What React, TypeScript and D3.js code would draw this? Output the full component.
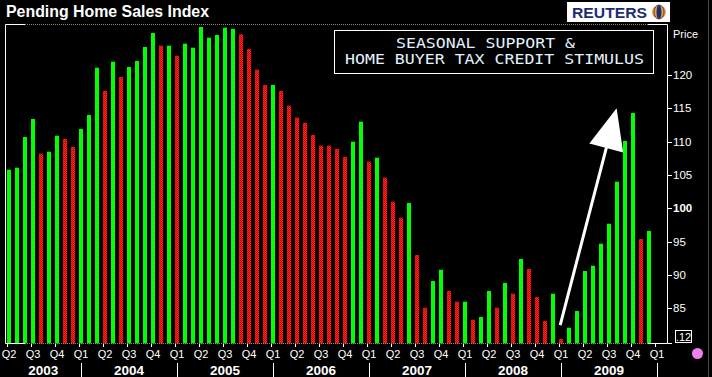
import React from "react";
import * as d3 from "d3";

// Monthly Pending Home Sales Index, Apr 2003 .. Dec 2009
const values: number[] = [
  105.8, 106.1, 110.7, 113.4, 108.2, 108.5, 110.9, 110.4, 109.2, 111.9,
  114.0, 121.1, 117.6, 122.0, 119.7, 121.2, 122.1, 124.2, 126.3, 124.4,
  124.4, 122.9, 124.7, 124.1, 127.2, 125.6, 126.0, 127.1, 126.9, 126.1,
  123.9, 120.8, 118.5, 118.5, 117.6, 115.4, 113.6, 112.8, 111.0, 109.4,
  109.4, 108.9, 107.7, 110.0, 113.0, 107.0, 107.6, 104.6, 101.0, 98.6,
  100.8, 93.0, 85.1, 89.1, 90.8, 87.6, 86.0, 86.0, 83.3, 83.7,
  87.6, 85.1, 88.8, 87.2, 92.4, 90.9, 86.7, 83.1, 87.2, 80.4,
  82.1, 84.6, 90.6, 91.4, 94.7, 97.7, 104.0, 110.1, 114.3, 95.4,
  96.6,
];
// G = green (up) bar, R = red (down) bar, as coloured in the source
const directions: string[] = (
  "GGGGRGGRRGGGRGRGGGGRGRGGGGGGGRRRRGRRRRRRRRRGGRGRRRGRRGGRRGRGGRGRGRRRGRGGGGGGGGGRG"
).split("");
const quarterLabels: string[] = [
  "Q2", "Q3", "Q4",
  "Q1", "Q2", "Q3", "Q4",
  "Q1", "Q2", "Q3", "Q4",
  "Q1", "Q2", "Q3", "Q4",
  "Q1", "Q2", "Q3", "Q4",
  "Q1", "Q2", "Q3", "Q4",
  "Q1", "Q2", "Q3", "Q4",
  "Q1",
];
const years: string[] = ["2003", "2004", "2005", "2006", "2007", "2008", "2009"];
const yearStartIndex: number[] = [0, 9, 21, 33, 45, 57, 69, 81];
const yTicks: number[] = [85, 90, 95, 100, 105, 110, 115, 120];
const title = "Pending Home Sales Index";
const noteLines: string[] = ["SEASONAL SUPPORT &", "HOME BUYER TAX CREDIT STIMULUS"];

const W = 712;
const H = 377;
const plotLeft = 5.5;
const plotRight = 667.5;
const plotTop = 24.5;
const plotBottom = 343.5;
const sans = "'Liberation Sans', Arial, sans-serif";
const mono = "'DejaVu Sans Mono', 'Liberation Mono', monospace";

export default function App() {
  const x = d3.scaleLinear().domain([0, 81]).range([9, 657]);
  const y = d3.scaleLinear().domain([80, 120]).range([341.7, 75]);
  const barW = 4;

  // arrow in data coordinates
  const a0 = [x(68.9), y(82.5)];
  const a1 = [x(75.95), y(115)];
  const dx = a1[0] - a0[0];
  const dy = a1[1] - a0[1];
  const len = Math.hypot(dx, dy);
  const ux = dx / len;
  const uy = dy / len;
  const headLen = 41;
  const headHalf = 17.5;
  const bx = a1[0] - ux * headLen;
  const by = a1[1] - uy * headLen;
  const px = -uy;
  const py = ux;
  const head = [
    [a1[0], a1[1]],
    [bx + px * headHalf, by + py * headHalf],
    [bx - px * headHalf, by - py * headHalf],
  ];

  return (
    <svg
      width={W}
      height={H}
      style={{ position: "fixed", left: 0, top: 0, display: "block" }}
    >
      <defs>
        <pattern id="redDither" width="2" height="2" patternUnits="userSpaceOnUse">
          <rect width="2" height="2" fill="#ff2424" />
          <rect width="1" height="1" fill="#d40000" />
          <rect x="1" y="1" width="1" height="1" fill="#d40000" />
        </pattern>
      </defs>
      <rect width={W} height={H} fill="#000" />

      {/* title */}
      <text x={6} y={17} fill="#fff" fontFamily={sans} fontSize={16} fontWeight="bold"
        textLength={203} lengthAdjust="spacingAndGlyphs">
        {title}
      </text>

      {/* Reuters logo */}
      <g>
        <rect x={567} y={2} width={103} height={20} fill="#fff" />
        <text x={572} y={17.5} fill="#1c2d6e" fontFamily={sans} fontSize={15} fontWeight="bold"
          textLength={75} lengthAdjust="spacingAndGlyphs">
          REUTERS
        </text>
        <circle cx={659} cy={12} r={7} fill="#f0a040" />
        <ellipse cx={659} cy={12} rx={2.5} ry={7} fill="#1c2d6e" />
        <ellipse cx={659} cy={12} rx={5} ry={7} fill="none" stroke="#1c2d6e" strokeWidth={0.8} />
      </g>

      {/* bars */}
      {values.map((v, i) => (
        <rect
          key={i}
          x={x(i) - barW / 2}
          y={y(v)}
          width={barW}
          height={plotBottom - y(v)}
          fill={directions[i] === "G" ? "#00ff00" : "url(#redDither)"}
        />
      ))}

      {/* plot frame */}
      <line x1={plotLeft} x2={plotLeft} y1={plotTop} y2={plotBottom} stroke="#fff" />
      <line x1={plotRight} x2={plotRight} y1={plotTop} y2={plotBottom} stroke="#fff" />
      {[plotTop, plotBottom].map((yy, k) => (
        <g key={k}>
          <line x1={plotLeft} x2={25} y1={yy} y2={yy} stroke="#fff" />
          <line x1={25} x2={648} y1={yy} y2={yy} stroke="#8a8a60" strokeDasharray="1,1" />
          <line x1={648} x2={plotRight} y1={yy} y2={yy} stroke="#fff" />
        </g>
      ))}
      <line x1={plotRight} x2={672} y1={plotBottom} y2={plotBottom} stroke="#fff" />

      {/* annotation box */}
      <rect x={334.5} y={30.5} width={319} height={43} fill="#000" stroke="#fff" />
      <text x={396} y={47.5} fill="#e4f2ff" fontFamily={mono} fontSize={14}
        textLength={179} lengthAdjust="spacingAndGlyphs">
        {noteLines[0]}
      </text>
      <text x={345} y={63.5} fill="#e4f2ff" fontFamily={mono} fontSize={14}
        textLength={299} lengthAdjust="spacingAndGlyphs">
        {noteLines[1]}
      </text>

      {/* arrow */}
      <line x1={a0[0]} y1={a0[1]} x2={bx + ux * 2} y2={by + uy * 2} stroke="#fff" strokeWidth={3} />
      <polygon points={head.map((p) => p.join(",")).join(" ")} fill="#fff" />

      {/* right axis */}
      <text x={673} y={38} fill="#fff" fontFamily={sans} fontSize={11}>Price</text>
      {yTicks.map((t) => (
        <g key={t}>
          <line x1={plotRight} x2={672} y1={Math.round(y(t)) + 0.5} y2={Math.round(y(t)) + 0.5} stroke="#fff" />
          <text x={673} y={y(t) + 4} fill="#fff" fontFamily={sans} fontSize={11.5}
            fontWeight={t === 100 ? "bold" : "normal"}>
            {t}
          </text>
        </g>
      ))}
      <rect x={675.5} y={330.5} width={16} height={12} fill="#000" stroke="#fff" />
      <text x={683.5} y={340.5} fill="#fff" fontFamily={sans} fontSize={11} textAnchor="middle">.12</text>
      <line x1={708.5} x2={708.5} y1={0} y2={H} stroke="#4a4a4a" />
      <circle cx={697.5} cy={353.5} r={5.5} fill="#f080f0" />

      {/* bottom axis: quarters */}
      {quarterLabels.map((q, k) => {
        const xi = x(k * 3);
        return (
          <g key={k}>
            <line x1={Math.round(xi) - 1.5} x2={Math.round(xi) - 1.5} y1={344} y2={347} stroke="#fff" />
            <text x={xi} y={357.5} fill="#fff" fontFamily={sans} fontSize={11} textAnchor="middle">{q}</text>
          </g>
        );
      })}

      {/* bottom axis: years */}
      {years.map((yr, k) => {
        const xs = k === 0 ? plotLeft : x(yearStartIndex[k]);
        const xe = x(yearStartIndex[k + 1]);
        return (
          <g key={yr}>
            <text x={(xs + xe) / 2} y={375} fill="#fff" fontFamily={sans} fontSize={13.5}
              fontWeight="bold" textAnchor="middle">{yr}</text>
            <line x1={Math.round(xe) + 0.5} x2={Math.round(xe) + 0.5} y1={363} y2={H} stroke="#fff" />
          </g>
        );
      })}
    </svg>
  );
}
